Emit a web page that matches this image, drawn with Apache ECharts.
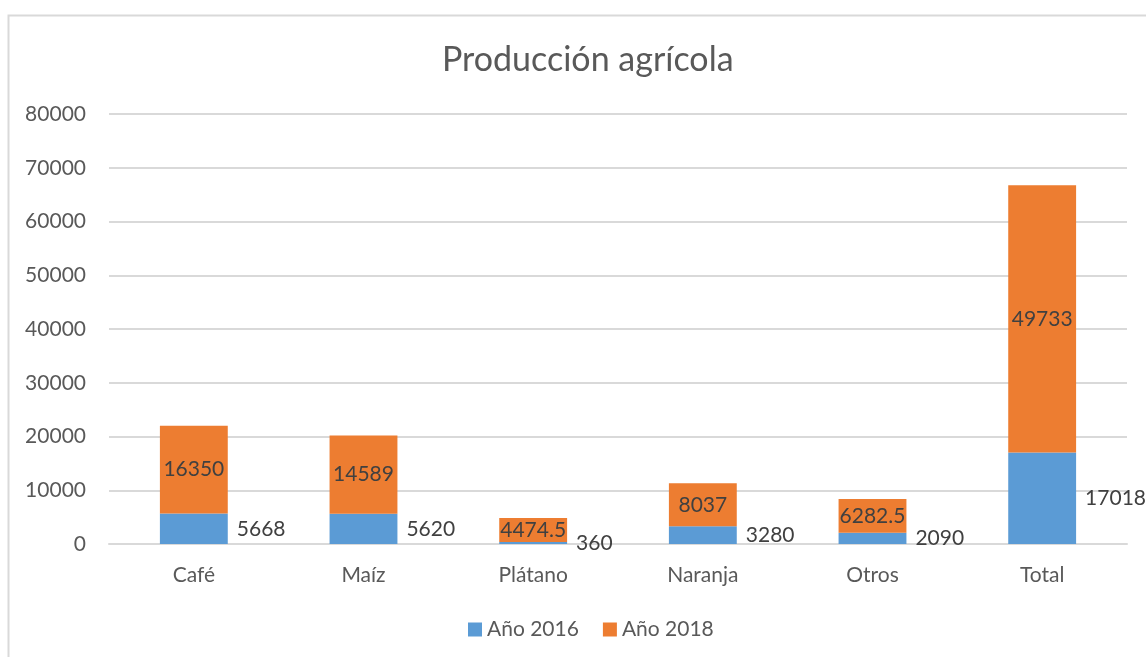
<!DOCTYPE html>
<html>
<head>
<meta charset="utf-8">
<script src="https://cdn.jsdelivr.net/npm/echarts@6/dist/echarts.min.js"></script>
<style>
  html, body { margin: 0; padding: 0; background: #fff; }
  #grafico { width: 1146px; height: 657px; }
</style>
</head>
<body>
<div id="grafico"></div>
<script>
  // Datos
  const categorias = ['Café', 'Maíz', 'Plátano', 'Naranja', 'Otros', 'Total'];
  const anio2016 = [5668, 5620, 360, 3280, 2090, 17018];
  const anio2018 = [16350, 14589, 4474.5, 8037, 6282.5, 49733];
  const ticksY = [0, 10000, 20000, 30000, 40000, 50000, 60000, 70000, 80000];

  const fuente = 'Lato, "Open Sans", sans-serif';
  const chart = echarts.init(document.getElementById('grafico'));

  const option = {
    backgroundColor: '#ffffff',
    animation: false,
    textStyle: { fontFamily: fuente },
    title: {
      text: 'Producción agrícola',
      left: 437,
      top: 38,
      textStyle: { fontFamily: fuente, fontSize: 34, fontWeight: 'normal', color: '#595959' },
    },
    graphic: [
      {
        type: 'rect',
        shape: { x: 8.5, y: 15.5, width: 1200, height: 700 },
        style: { fill: 'none', stroke: '#d9d9d9', lineWidth: 2 },
        silent: true,
      },
    ],
    legend: {
      bottom: 12,
      left: 463,
      itemWidth: 14,
      itemHeight: 14,
      itemGap: 24,
      icon: 'rect',
      textStyle: { fontFamily: fuente, fontSize: 21, color: '#595959' },
    },
    grid: { left: 109, right: 19, top: 114, bottom: 113 },
    xAxis: {
      type: 'category',
      data: categorias,
      axisLine: { lineStyle: { color: '#d9d9d9', width: 2 } },
      axisTick: { show: false },
      axisLabel: { fontSize: 21, color: '#595959', margin: 21, fontFamily: fuente },
    },
    yAxis: {
      type: 'value',
      min: ticksY[0],
      max: ticksY[ticksY.length - 1],
      interval: 10000,
      axisLine: { show: false },
      axisTick: { show: false },
      splitLine: { lineStyle: { color: '#d9d9d9', width: 2 } },
      axisLabel: {
        fontSize: 21,
        color: '#595959',
        margin: 23,
        fontFamily: fuente,
        formatter: (v) => String(v),
      },
    },
    series: [
      {
        name: 'Año 2016',
        type: 'bar',
        stack: 'total',
        data: anio2016,
        barWidth: '40%',
        itemStyle: { color: '#5b9bd5' },
        label: {
          show: true,
          position: 'right',
          distance: 9,
          fontSize: 21,
          color: '#404040',
          fontFamily: fuente,
        },
      },
      {
        name: 'Año 2018',
        type: 'bar',
        stack: 'total',
        data: anio2018,
        barWidth: '40%',
        itemStyle: { color: '#ed7d31' },
        label: {
          show: true,
          position: 'inside',
          fontSize: 21,
          color: '#404040',
          fontFamily: fuente,
        },
      },
    ],
  };

  chart.setOption(option);
</script>
</body>
</html>
